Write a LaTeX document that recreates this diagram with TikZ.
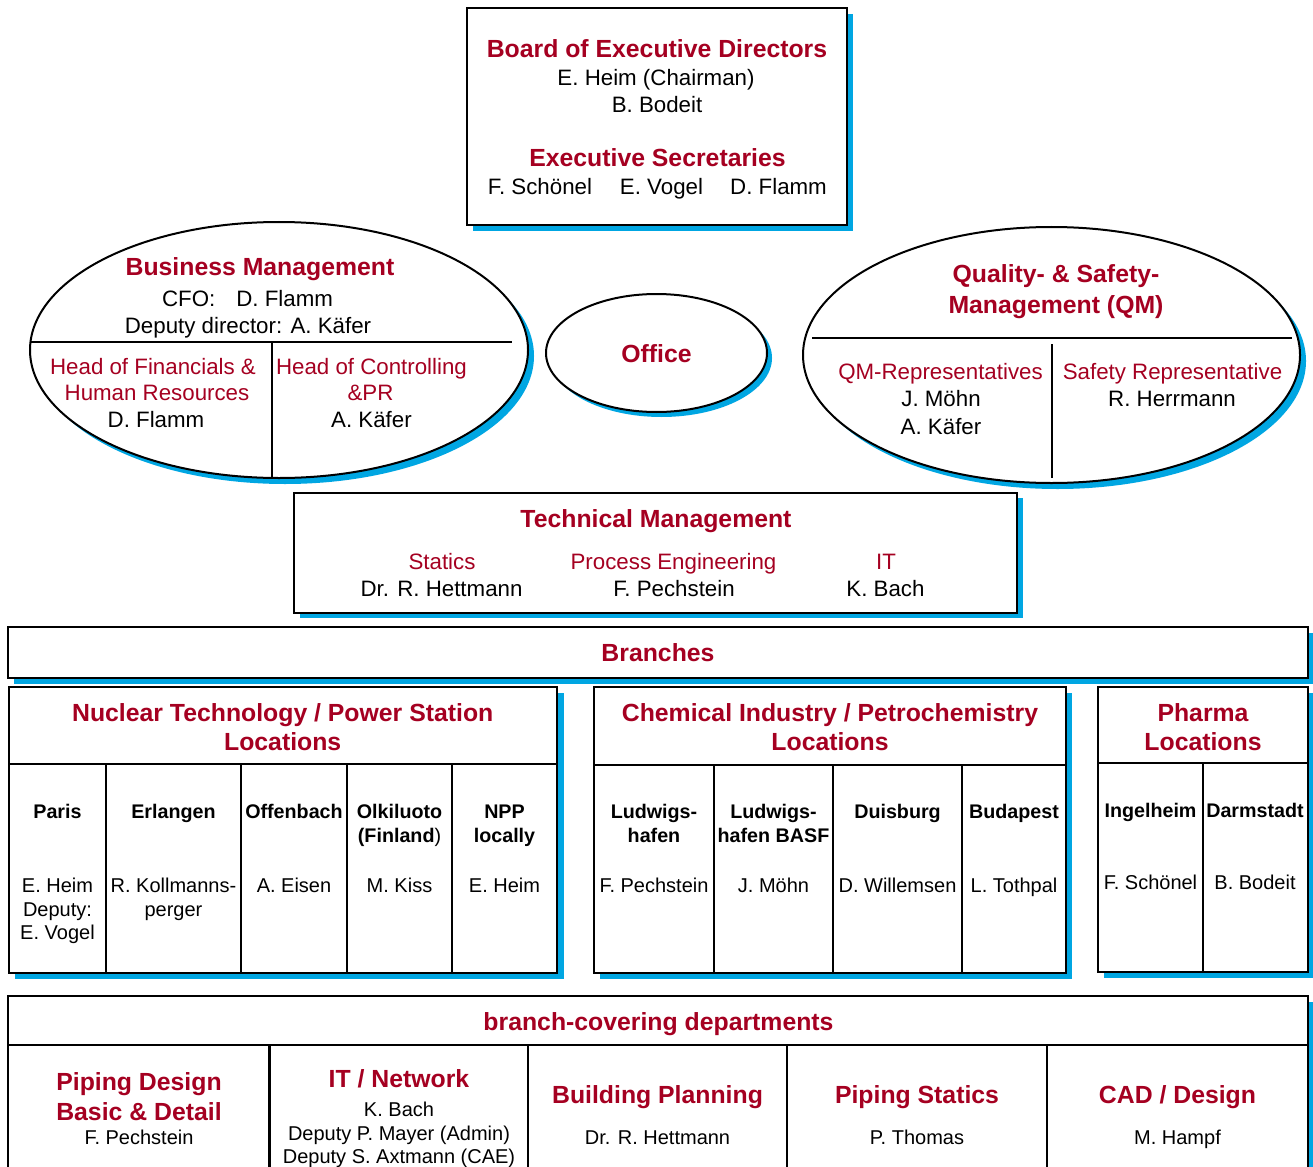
\documentclass[tikz,border=0pt]{standalone}
\usepackage{fontspec}
\setmainfont{Liberation Sans}
\definecolor{dred}{RGB}{165,0,33}
\definecolor{sblue}{RGB}{0,166,226}
\tikzset{
  txt/.style={inner sep=0pt, text depth=0pt, anchor=center},
  hb/.style={txt, text=dred, font=\fontsize{24.8}{28}\selectfont\bfseries, text height=17.7pt},
  hr/.style={txt, text=dred, font=\fontsize{22.3}{26}\selectfont, text height=16pt},
  nm/.style={txt, text=black, font=\fontsize{22.3}{26}\selectfont, text height=16pt},
  sn/.style={txt, text=black, font=\fontsize{20}{24}\selectfont, text height=14.3pt},
  sb/.style={txt, text=black, font=\fontsize{19.7}{24}\selectfont\bfseries, text height=14.1pt},
  frame/.style={draw=black, line width=2pt, fill=white},
  shadowfill/.style={fill=sblue},
  divider/.style={draw=black, line width=1.8pt}
}
\begin{document}
\begin{tikzpicture}[x=1pt, y=-1pt]
\useasboundingbox (0,0) rectangle (1313,1166);
\clip (0,0) rectangle (1313,1166);
\fill[white] (0,0) rectangle (1313,1166);

% ---------- Board of Executive Directors ----------
\fill[shadowfill] (473,14) rectangle (853,231);
\draw[frame] (467,8) rectangle (847,225);
\node[hb] (b1) at (657,48.7) {Board of Executive Directors};
\node[nm] (b2) at (656,78) {E. Heim (Chairman)};
\node[nm] (b3) at (657,105) {B. Bodeit};
\node[hb] (b4) at (657.5,158) {Executive Secretaries};
\node[nm] (b5) at (540,187) {F. Schönel};
\node[nm] (b6) at (661.5,187) {E. Vogel};
\node[nm] (b7) at (778.5,187) {D. Flamm};

% ---------- Business Management ellipse ----------
\fill[shadowfill] (285,356) ellipse (249 and 128);
\draw[frame] (279,350) ellipse (249 and 128);
\draw[divider] (31,342) -- (512,342);
\draw[divider] (272,342) -- (272,477);
\node[hb] (bm1) at (260,266.7) {Business Management};
\node[nm] (bm2) at (247.5,298.5) {CFO:\hspace{21pt}D. Flamm};
\node[nm] (bm3) at (248,325.5) {Deputy director: A. Käfer};
\node[hr] (bm4) at (153,366) {Head of Financials \&};
\node[hr] (bm5) at (157,392) {Human Resources};
\node[nm] (bm6) at (156,419) {D. Flamm};
\node[hr] (bm7) at (371.5,366) {Head of Controlling};
\node[hr] (bm8) at (370.5,392) {\&PR};
\node[nm] (bm9) at (371.5,419) {A. Käfer};

% ---------- Office ellipse ----------
\fill[shadowfill] (661.5,358) ellipse (110.5 and 59);
\draw[frame] (656.5,353) ellipse (110.5 and 59);
\node[hb] (of1) at (656.5,354) {Office};

% ---------- QM ellipse ----------
\fill[shadowfill] (1057.5,361) ellipse (248.5 and 128);
\draw[frame] (1051.5,355) ellipse (248.5 and 128);
\draw[divider] (812,338) -- (1292,338);
\draw[divider] (1052,344) -- (1052,478);
\node[hb] (q1) at (1056,274) {Quality- \& Safety-};
\node[hb] (q2) at (1056,305) {Management (QM)};
\node[hr] (q3) at (940.5,371) {QM-Representatives};
\node[nm] (q4) at (941,398) {J. Möhn};
\node[nm] (q5) at (941,426.5) {A. Käfer};
\node[hr] (q6) at (1172.5,371) {Safety Representative};
\node[nm] (q7) at (1172,398) {R. Herrmann};

% ---------- Technical Management ----------
\fill[shadowfill] (300,498) rectangle (1023,618);
\draw[frame] (294,493) rectangle (1017,613);
\node[hb] (t1) at (656,518.7) {Technical Management};
\node[hr] (t2) at (442,561.7) {Statics};
\node[nm] (t3) at (441.5,588) {Dr. R. Hettmann};
\node[hr] (t4) at (673.5,561.7) {Process Engineering};
\node[nm] (t5) at (674,588) {F. Pechstein};
\node[hr] (t6) at (886,561.7) {IT};
\node[nm] (t7) at (885.5,588) {K. Bach};

% ---------- Branches ----------
\fill[shadowfill] (14,633) rectangle (1314,684);
\draw[frame] (8,627) rectangle (1308,678);
\node[hb] (br) at (658,653) {Branches};

% ---------- Nuclear Technology ----------
\fill[shadowfill] (15,693) rectangle (564,979);
\draw[frame] (9,687) rectangle (557,973);
\draw[divider] (9,764) -- (557,764);
\foreach \xx in {106,241,347,452} \draw[divider] (\xx,764) -- (\xx,973);
\node[hb] (n1) at (282.7,712.7) {Nuclear Technology / Power Station};
\node[hb] (n2) at (282.7,742) {Locations};
\node[sb] (n3) at (57.5,811) {Paris};
\node[sn] (n4) at (57.5,885) {E. Heim};
\node[sn] (n5) at (57.5,909) {Deputy:};
\node[sn] (n6) at (57.5,932) {E. Vogel};
\node[sb] (n7) at (173.5,811) {Erlangen};
\node[sn] (n8) at (173.5,885) {R. Kollmanns-};
\node[sn] (n9) at (173.5,909) {perger};
\node[sb] (n10) at (294,811) {Offenbach};
\node[sn] (n11) at (294,885) {A. Eisen};
\node[sb] (n12) at (399.5,811) {Olkiluoto};
\node[sb] (n13) at (399.5,835.7) {(Finland\mdseries)};
\node[sn] (n14) at (399.5,885) {M. Kiss};
\node[sb] (n15) at (504.5,811) {NPP};
\node[sb] (n16) at (504.5,835.7) {locally};
\node[sn] (n17) at (504.5,885) {E. Heim};

% ---------- Chemical Industry ----------
\fill[shadowfill] (600,693) rectangle (1072,979);
\draw[frame] (594,687) rectangle (1066,973);
\draw[divider] (594,765) -- (1066,765);
\foreach \xx in {714,833,962} \draw[divider] (\xx,765) -- (\xx,973);
\node[hb] (c1) at (830,712.7) {Chemical Industry / Petrochemistry};
\node[hb] (c2) at (830,742) {Locations};
\node[sb] (c3) at (654,811) {Ludwigs-};
\node[sb] (c4) at (654,835.7) {hafen};
\node[sn] (c5) at (654,885) {F. Pechstein};
\node[sb] (c6) at (773.5,811) {Ludwigs-};
\node[sb] (c7) at (773.5,835.7) {hafen BASF};
\node[sn] (c8) at (773.5,885) {J. Möhn};
\node[sb] (c9) at (897.5,811) {Duisburg};
\node[sn] (c10) at (897.5,885) {D. Willemsen};
\node[sb] (c11) at (1014,811) {Budapest};
\node[sn] (c12) at (1014,885) {L. Tothpal};

% ---------- Pharma ----------
\fill[shadowfill] (1104,693) rectangle (1314,978);
\draw[frame] (1098,687) rectangle (1308,972);
\draw[divider] (1098,763) -- (1308,763);
\draw[divider] (1203,763) -- (1203,972);
\node[hb] (p1) at (1203,712.7) {Pharma};
\node[hb] (p2) at (1203,742) {Locations};
\node[sb] (p3) at (1150.5,810) {Ingelheim};
\node[sn] (p4) at (1150.5,882) {F. Schönel};
\node[sb] (p5) at (1255,810) {Darmstadt};
\node[sn] (p6) at (1255,882) {B. Bodeit};

% ---------- branch-covering departments ----------
\fill[shadowfill] (14,1002) rectangle (1314,1210);
\draw[frame] (8,996) rectangle (1308,1204);
\draw[divider] (8,1045) -- (1308,1045);
\draw[draw=black, line width=2.6pt] (269.5,1045) -- (269.5,1204);
\foreach \xx in {528,787,1047} \draw[divider] (\xx,1045) -- (\xx,1204);
\node[hb] (d0) at (658.5,1022) {branch-covering departments};
\node[hb] (d1) at (139,1081.7) {Piping Design};
\node[hb] (d2) at (139,1111.7) {Basic \& Detail};
\node[sn] (d3) at (139,1137) {F. Pechstein};
\node[hb] (d4) at (399,1078.7) {IT / Network};
\node[sn] (d5) at (399,1109.7) {K. Bach};
\node[sn] (d6) at (399,1133) {Deputy P. Mayer (Admin)};
\node[sn] (d7) at (399,1156) {Deputy S. Axtmann (CAE)};
\node[hb] (d8) at (657.5,1095) {Building Planning};
\node[sn] (d9) at (657.5,1137) {Dr. R. Hettmann};
\node[hb] (d10) at (917,1095) {Piping Statics};
\node[sn] (d11) at (917,1137) {P. Thomas};
\node[hb] (d12) at (1177.5,1095) {CAD / Design};
\node[sn] (d13) at (1177.5,1137) {M. Hampf};
\end{tikzpicture}
\end{document}
